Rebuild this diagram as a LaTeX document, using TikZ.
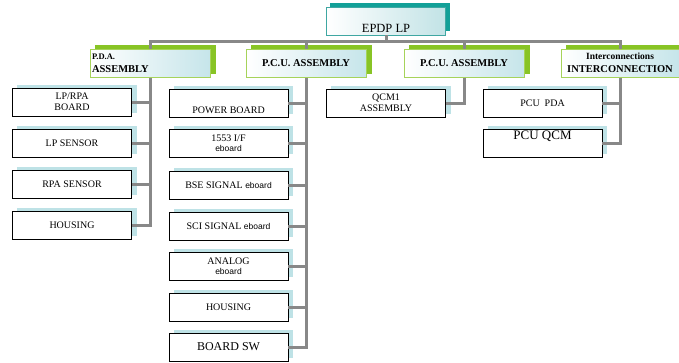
\documentclass[tikz,border=0pt]{standalone}
\usepackage{fontspec}
\setmainfont{Liberation Serif}
\setsansfont{Liberation Sans}
\usetikzlibrary{backgrounds}
\definecolor{conngray}{HTML}{888888}
\definecolor{topborder}{HTML}{3FA7A2}
\definecolor{topshadow}{HTML}{12A098}
\definecolor{topfill}{HTML}{C2E3E6}
\definecolor{lvlborder}{HTML}{A6D35A}
\definecolor{lvlshadow}{HTML}{88C425}
\definecolor{lvlfill}{HTML}{C6E5EA}
\definecolor{leafshadow}{HTML}{BEE2E6}
\newcommand\eboardtxt{{\sffamily\fontsize{8.5}{10}\selectfont eboard}}
\begin{document}
\begin{tikzpicture}[x=1pt,y=-1pt,
  conn/.style={draw=conngray,line width=3pt,line join=miter},
  topbox/.style={draw=topborder,line width=0.8pt,left color=white,right color=topfill,
    minimum width=119pt,minimum height=28pt,inner sep=1pt,font=\fontsize{12.5}{14}\selectfont},
  lvlbox/.style={draw=lvlborder,line width=1pt,left color=white,right color=lvlfill,
    minimum width=120pt,minimum height=28pt,inner sep=1pt,
    font=\bfseries\fontsize{10.5}{12.5}\selectfont,align=center},
  leafbox/.style={draw=black,line width=0.7pt,fill=white,minimum width=119pt,
    minimum height=28pt,inner sep=1pt,font=\fontsize{10}{11}\selectfont,align=center}]
\useasboundingbox (0,0) rectangle (679,362);

% top
\node[topbox] (top) at (386,21) {\raisebox{-11pt}[0pt][0pt]{EPDP LP}};

% level 2
\node[lvlbox,align=left,text width=116pt] (pda) at (150,63)
  {{\fontsize{8.5}{10}\selectfont P.D.A.}\\ASSEMBLY};
\node[lvlbox] (pcua) at (306,63) {P.C.U. ASSEMBLY};
\node[lvlbox] (pcub) at (464,63) {P.C.U. ASSEMBLY};
\node[lvlbox,minimum width=118pt] (inter) at (620,63)
  {{\fontsize{9.5}{11}\selectfont Interconnections}\\INTERCONNECTION};

% P.D.A. leaves
\node[leafbox] (lprpa) at (72,102) {LP/RPA\\BOARD};
\node[leafbox] (lpsens) at (72,143) {LP SENSOR};
\node[leafbox] (rpasens) at (72,184) {RPA SENSOR};
\node[leafbox] (housa) at (72,225) {HOUSING};

% P.C.U. leaves
\node[leafbox] (power) at (228.5,103) {\raisebox{-10.5pt}[0pt][0pt]{POWER BOARD}};
\node[leafbox] (if1553) at (228.5,143) {1553 I/F\\[-1pt]\eboardtxt};
\node[leafbox] (bse) at (228.5,185) {BSE SIGNAL \eboardtxt};
\node[leafbox] (sci) at (228.5,226) {SCI SIGNAL \eboardtxt};
\node[leafbox] (analog) at (228.5,266) {ANALOG\\[-1pt]\eboardtxt};
\node[leafbox] (housb) at (228.5,307) {HOUSING};
\node[leafbox,font=\fontsize{12}{13}\selectfont] (boardsw) at (228.5,347) {BOARD SW};

% second P.C.U. leaf
\node[leafbox] (qcm1) at (386,103) {QCM1\\ASSEMBLY};

% interconnection leaves
\node[leafbox] (pcupda) at (542.5,103) {PCU\ \ PDA};
\node[leafbox,label={[anchor=north,inner sep=0pt,yshift=-2pt,font=\fontsize{13}{14}\selectfont]north:PCU QCM}] (pcuqcm) at (542.5,143) {};

% background and shadows
\begin{scope}[on background layer]
  \fill[white] (0,0) rectangle (679,362);
  \fill[topshadow] ([shift={(4,-4)}]top.south west) rectangle ([shift={(4,-4)}]top.north east);
  \foreach \n in {pda,pcua,pcub,inter}
    \fill[lvlshadow] ([shift={(5,-4)}]\n.south west) rectangle ([shift={(5,-4)}]\n.north east);
  \foreach \n in {lprpa,lpsens,rpasens,housa,power,if1553,bse,sci,analog,housb,boardsw,qcm1,pcupda,pcuqcm}
    \fill[leafshadow] ([shift={(5,-3)}]\n.south west) rectangle ([shift={(5,-3)}]\n.north east);
\end{scope}

% connectors
\coordinate (bar) at (0,41);
\draw[conn] (top.south) -- (top.south |- bar);
\draw[conn] (pda.north) -- (pda.north |- bar) -| (inter.north);
\draw[conn] (pcua.north) -- (pcua.north |- bar);
\draw[conn] (pcub.north) -- (pcub.north |- bar);

\draw[conn] (pda.south) |- (housa.east);
\foreach \n in {lprpa,lpsens,rpasens}
  \draw[conn] (\n.east) -- (\n.east -| pda.south);

\draw[conn] (pcua.south) |- (boardsw.east);
\foreach \n in {power,if1553,bse,sci,analog,housb}
  \draw[conn] (\n.east) -- (\n.east -| pcua.south);

\draw[conn] (pcub.south) |- (qcm1.east);

\draw[conn] (inter.south) |- (pcuqcm.east);
\draw[conn] (pcupda.east) -- (pcupda.east -| inter.south);
\end{tikzpicture}
\end{document}
